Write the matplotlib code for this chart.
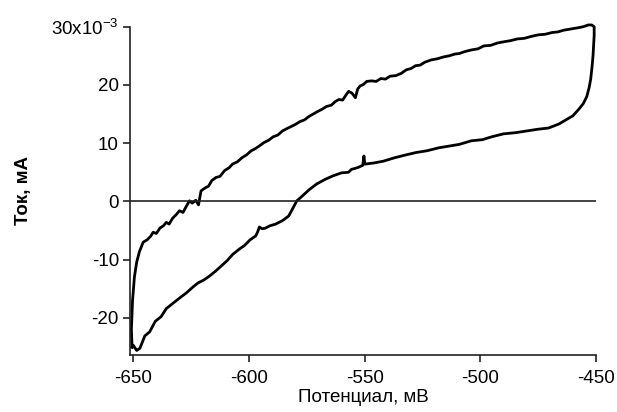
import matplotlib
matplotlib.use("Agg")
import matplotlib.pyplot as plt

plt.rcParams['font.family'] = ['Liberation Sans', 'DejaVu Sans']

# forward sweep -650 -> -450 mV (current in 1e-3 mA)
fwd_x = [-650.5, -650.8, -650.3, -649.5, -648.5, -647.3, -645.7, -644.0, -642.5, -641.4,
         -640.0, -638.5, -637.0, -635.7, -634.5, -633.0, -631.5, -630.0, -628.5, -627.0,
         -625.7, -624.5, -623.0, -621.8, -620.7, -619.0, -617.5, -616.0, -614.3, -612.5,
         -610.5, -608.5, -607.1, -605.0, -603.0, -601.0, -599.0, -597.5, -595.6, -593.5,
         -591.5, -589.5, -587.5, -585.5, -584.1, -582.0, -580.0, -578.0, -576.0, -574.0,
         -572.7, -570.5, -568.5, -566.5, -564.5, -562.5, -561.1, -559.5, -558.0, -556.9,
         -555.5, -554.0, -553.0, -552.0, -550.5, -549.1, -547.0, -545.0, -543.0, -541.0,
         -539.0, -536.5, -534.1, -532.0, -530.0, -528.0, -526.0, -524.0, -521.2, -518.5,
         -516.0, -513.5, -511.0, -509.0, -506.9, -504.0, -501.0, -498.5, -495.5, -492.6,
         -490.0, -487.0, -484.0, -481.0, -478.3, -475.0, -472.0, -469.0, -466.5, -464.0,
         -461.0, -458.0, -455.5, -453.3, -451.9, -450.8]
fwd_y = [-25.0, -22.0, -17.0, -13.0, -10.4, -8.6, -7.0, -6.6, -6.0, -5.3,
         -5.5, -4.6, -4.2, -3.6, -3.9, -2.9, -2.3, -1.6, -1.9, -0.8,
         0.1, -0.3, 0.2, -0.6, 1.8, 2.3, 2.6, 3.6, 4.1, 4.3,
         5.3, 5.8, 6.4, 6.8, 7.5, 8.0, 8.7, 9.0, 9.5, 10.1,
         10.5, 11.1, 11.4, 12.1, 12.4, 12.8, 13.2, 13.7, 14.0, 14.6,
         14.9, 15.4, 15.8, 16.3, 16.5, 17.2, 17.5, 17.4, 18.3, 18.9,
         18.6, 17.8, 19.3, 19.8, 20.1, 20.6, 20.7, 20.6, 21.1, 21.0,
         21.5, 21.6, 22.0, 22.6, 22.8, 23.3, 23.4, 23.9, 24.3, 24.5,
         24.8, 25.0, 25.3, 25.4, 25.7, 26.0, 26.2, 26.7, 26.8, 27.2,
         27.4, 27.6, 27.9, 28.0, 28.3, 28.6, 28.7, 29.0, 29.1, 29.4,
         29.6, 29.8, 30.0, 30.3, 30.3, 30.0]

# reverse sweep -450 -> -650 mV
rev_x = [-450.8, -451.0, -451.3, -451.7, -452.3, -453.0, -454.0, -455.5, -457.5, -460.0,
         -463.0, -466.0, -470.5, -475.0, -480.0, -484.8, -490.0, -495.0, -499.1, -504.0,
         -509.0, -513.4, -518.0, -523.0, -527.7, -532.0, -537.0, -542.0, -546.0, -549.9,
         -550.3, -550.8, -553.0, -555.7, -557.0, -560.0, -563.6, -567.0, -570.7, -574.0,
         -577.0, -579.3, -580.5, -582.8, -585.5, -588.5, -591.0, -593.0, -594.3, -595.5,
         -596.2, -597.0, -599.5, -602.0, -604.2, -607.0, -609.5, -612.0, -614.2, -617.0,
         -619.5, -622.0, -624.2, -627.0, -630.0, -632.5, -635.7, -638.0, -640.5, -642.9,
         -645.0, -647.1, -648.5, -650.0, -650.5]
rev_y = [28.5, 27.2, 25.0, 23.2, 21.0, 19.5, 18.0, 16.8, 15.8, 14.7,
         14.0, 13.3, 12.6, 12.4, 12.1, 11.8, 11.6, 11.1, 10.6, 10.4,
         9.8, 9.5, 9.2, 8.7, 8.4, 8.0, 7.5, 6.9, 6.6, 6.4,
         7.8, 6.2, 5.8, 5.5, 5.0, 4.9, 4.4, 3.8, 3.0, 2.0,
         0.9, 0.1, -0.8, -2.5, -3.3, -3.9, -4.2, -4.6, -4.7, -4.4,
         -5.2, -5.9, -6.6, -7.6, -8.2, -9.1, -10.2, -11.1, -11.9, -12.8,
         -13.5, -14.0, -14.7, -15.7, -16.6, -17.4, -18.4, -19.8, -20.6, -22.4,
         -23.1, -25.2, -25.6, -24.7, -25.0]

x_ticks = [-650, -600, -550, -500, -450]
y_ticks = [-20, -10, 0, 10, 20, 30]
y_labels = ['-20', '-10', '0', '10', '20', r'30x10$^{\mathregular{-3}}$']

fig = plt.figure(figsize=(6.17, 4.12), dpi=100)
ax = fig.add_axes([0.2107, 0.1380, 0.7553, 0.7972])

ax.plot(fwd_x + rev_x, fwd_y + rev_y, color='black', lw=2.0, clip_on=False)
ax.axhline(0, color='#222222', lw=1.2)

ax.set_xlim(-651.4, -450)
ax.set_ylim(-26.4, 30)
ax.set_xticks(x_ticks)
ax.set_xticklabels([str(v) for v in x_ticks])
ax.set_yticks(y_ticks)
ax.set_yticklabels(y_labels)

for s in ['top', 'right']:
    ax.spines[s].set_visible(False)
for s in ['left', 'bottom']:
    ax.spines[s].set_linewidth(1.2)
    ax.spines[s].set_color('#222222')
ax.tick_params(direction='out', length=5, width=1.2, color='#222222',
               labelsize=13.5, pad=3)
ax.tick_params(axis='x', pad=6)

ax.set_xlabel('Потенциал, мВ', fontsize=13.5, labelpad=1)
ax.set_ylabel('Ток, мА', fontsize=13.5, fontweight='bold', labelpad=14)

fig.savefig('out.png', dpi=100)
